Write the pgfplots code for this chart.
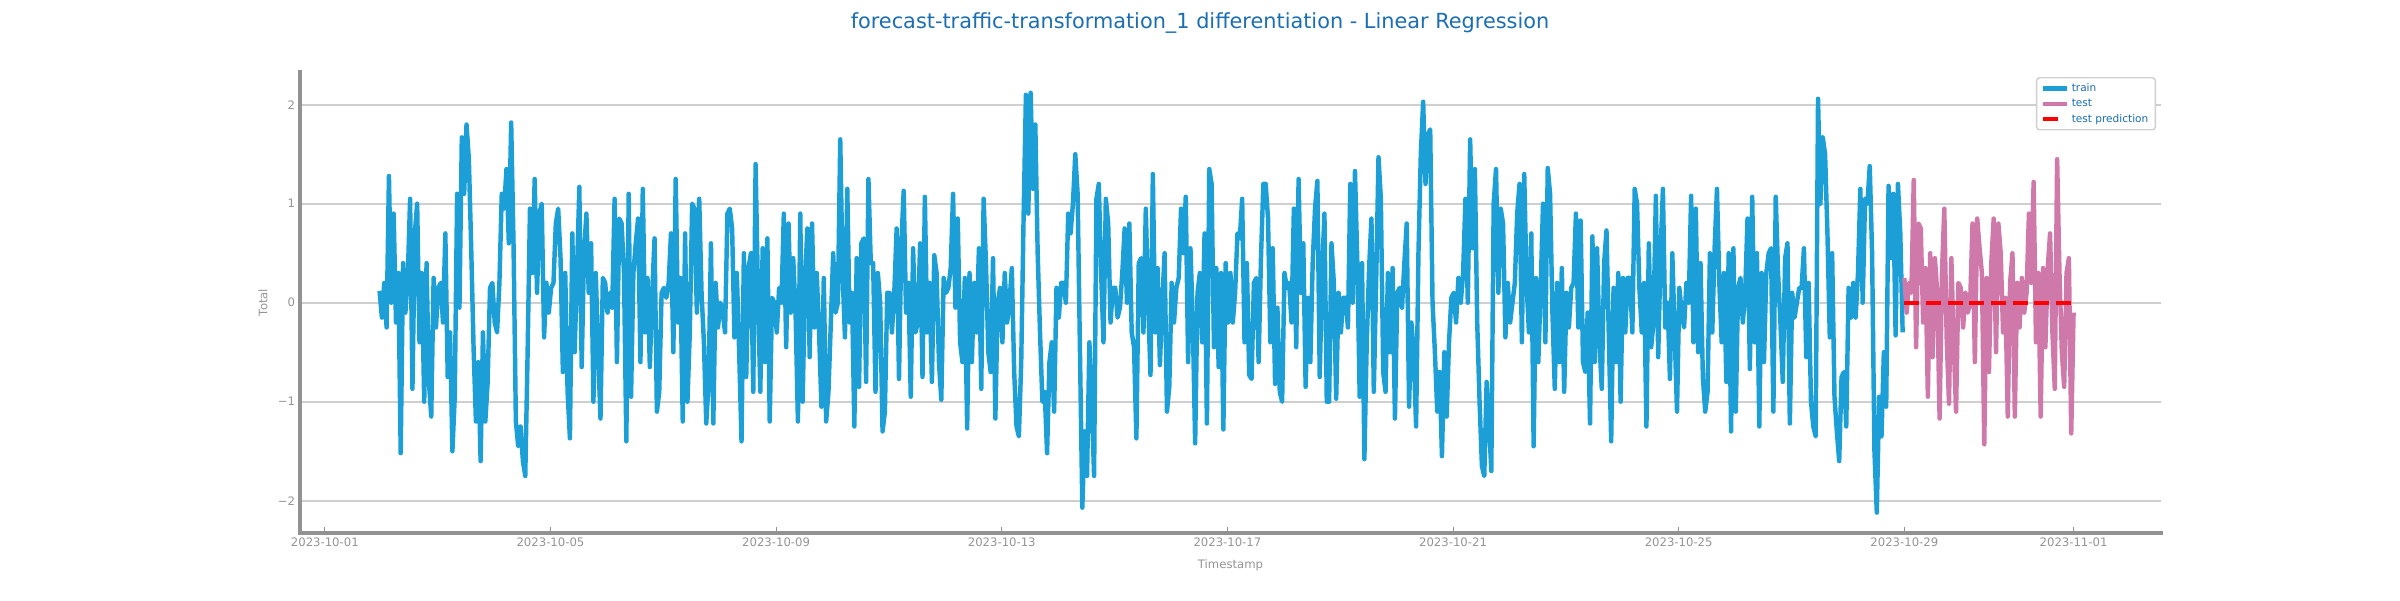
\documentclass[border=0pt]{standalone}
\usepackage{fontspec}
\setmainfont{DejaVu Sans}
\usepackage{pgfplots}
\usepackage{pgfplotstable}
\pgfplotsset{compat=1.18}
\pgfplotsset{predimg/.style={legend image code/.code={\draw[##1, dash pattern=on 10.8pt off 20pt] (0cm,0cm) -- (0.6cm,0cm);}}}

\definecolor{trainc}{HTML}{1B9FD6}
\definecolor{testc}{HTML}{CF78AA}
\definecolor{titlec}{HTML}{1B6EB2}
\definecolor{tickc}{HTML}{949494}
\definecolor{spinec}{HTML}{929292}
\definecolor{gridc}{HTML}{CFCFCF}

% hourly values, train from 2023-10-01 23:00
\pgfplotstableread[header=false,row sep=\\]{%
0.12\\-0.15\\0.2\\-0.25\\1.28\\0.0\\0.9\\-0.2\\0.3\\-1.52\\%
0.4\\-0.1\\0.25\\1.05\\-0.87\\0.7\\1.0\\-0.4\\0.3\\-1.0\\%
0.4\\-0.8\\-1.15\\0.25\\-0.25\\0.15\\0.2\\-0.2\\0.7\\-0.75\\%
-0.3\\-1.5\\-0.95\\1.1\\-0.05\\1.67\\1.1\\1.8\\1.45\\0.55\\%
-0.45\\-1.2\\-0.6\\-1.6\\-0.3\\-1.2\\-0.8\\0.15\\0.2\\-0.2\\%
-0.3\\0.2\\1.1\\0.95\\1.35\\0.6\\1.82\\0.6\\-1.2\\-1.45\\%
-1.25\\-1.6\\-1.75\\-0.5\\0.95\\0.3\\1.25\\0.1\\0.9\\1.0\\%
-0.35\\0.2\\-0.1\\0.15\\0.2\\0.8\\0.95\\0.45\\-0.7\\0.3\\%
-0.9\\-1.37\\0.7\\-0.5\\0.3\\1.17\\-0.65\\0.5\\0.9\\0.1\\%
0.6\\-1.0\\0.3\\-0.5\\-1.17\\0.25\\0.2\\-0.1\\0.1\\-0.05\\%
1.05\\-0.6\\0.85\\0.8\\0.3\\-1.4\\1.1\\-0.95\\0.3\\0.6\\%
0.85\\-0.6\\1.15\\-0.3\\0.25\\-0.65\\0.1\\0.65\\-1.1\\-0.9\\%
0.1\\0.15\\0.05\\0.2\\0.7\\-0.5\\1.25\\-0.2\\0.25\\-1.2\\%
0.7\\-1.0\\-0.3\\1.0\\0.95\\-0.1\\1.05\\0.1\\-0.4\\-1.22\\%
-0.8\\0.6\\-1.22\\0.2\\-0.25\\0.0\\-0.1\\-0.3\\0.9\\0.95\\%
0.75\\-0.35\\0.3\\-0.5\\-1.4\\0.5\\-0.75\\0.35\\0.5\\-0.9\\%
1.4\\%
0.1\\-0.9\\0.55\\-0.6\\0.65\\-1.2\\0.05\\0.0\\-0.3\\0.15\\%
0.0\\0.9\\-0.45\\0.8\\-0.1\\0.45\\-0.1\\-1.2\\0.9\\-1.0\\%
0.2\\0.75\\-0.55\\0.8\\-0.25\\0.3\\-0.3\\-1.05\\0.25\\-1.2\\%
-0.9\\-0.2\\0.5\\-0.1\\0.0\\1.65\\0.3\\-0.35\\1.15\\-0.2\\%
0.1\\-1.25\\0.45\\-0.85\\0.6\\0.65\\-0.8\\1.25\\0.4\\0.4\\%
-0.9\\0.3\\0.0\\-1.3\\-1.1\\0.1\\0.1\\-0.3\\0.1\\0.75\\%
-0.77\\0.6\\1.13\\-0.1\\0.2\\-0.95\\0.55\\-0.3\\-0.2\\0.6\\%
-0.75\\1.07\\-0.3\\0.2\\-0.8\\0.48\\0.3\\-0.6\\-0.98\\0.25\\%
0.1\\%
0.15\\0.35\\1.1\\-0.05\\0.85\\-0.4\\-0.6\\0.25\\-1.27\\0.3\\%
-0.6\\0.2\\-0.3\\0.55\\-0.87\\1.05\\0.4\\-0.5\\-0.7\\0.45\\%
-1.17\\0.0\\0.15\\-0.4\\0.3\\-0.2\\0.0\\0.35\\-0.7\\-1.25\\%
-1.35\\-0.6\\0.85\\2.1\\0.9\\2.12\\1.15\\1.8\\0.5\\-0.3\\%
-1.0\\-0.9\\-1.52\\-0.6\\-0.4\\-1.1\\0.15\\-0.15\\0.2\\0.2\\%
0.0\\0.9\\0.7\\1.0\\1.5\\1.1\\-0.5\\-2.07\\-1.3\\-1.75\\%
-0.4\\-1.0\\-1.75\\1.05\\1.2\\0.3\\-0.4\\1.05\\0.8\\-0.2\\%
0.15\\0.15\\-0.15\\-0.05\\0.3\\0.75\\0.0\\0.8\\-0.3\\-0.45\\%
-1.37\\%
0.4\\0.45\\-0.3\\0.95\\0.0\\-0.73\\1.3\\-0.3\\0.35\\-0.63\\%
0.0\\0.5\\-1.1\\-0.85\\0.2\\-0.2\\0.15\\0.25\\0.95\\0.5\\%
1.07\\-0.6\\0.55\\-0.2\\-1.42\\0.1\\0.3\\-0.4\\0.7\\-1.22\\%
1.35\\1.2\\-0.45\\0.35\\-0.65\\0.3\\-1.28\\0.4\\-0.2\\0.3\\%
-0.2\\0.1\\0.7\\0.65\\1.05\\-0.4\\0.4\\-0.73\\-0.77\\0.2\\%
0.25\\-0.6\\0.45\\1.2\\1.2\\0.85\\-0.4\\0.55\\-0.82\\-0.05\\%
-0.9\\-1.0\\0.3\\0.15\\0.2\\-0.2\\0.95\\-0.45\\1.25\\0.1\\%
0.6\\-0.85\\0.05\\-0.6\\0.4\\0.95\\1.23\\-0.75\\0.3\\0.9\\%
-1.0\\%
-1.0\\0.6\\0.2\\-0.97\\0.1\\-0.3\\0.05\\0.05\\-0.25\\1.2\\%
0.0\\1.33\\0.4\\-0.95\\0.4\\-1.58\\-0.4\\0.35\\0.85\\-0.9\\%
0.2\\1.47\\1.05\\-0.7\\-0.9\\0.3\\-0.5\\0.35\\-1.17\\0.1\\%
0.15\\-0.05\\0.4\\0.8\\-1.05\\-0.2\\-0.5\\-1.25\\0.5\\1.5\\%
2.03\\1.2\\1.7\\1.75\\0.0\\-0.5\\-1.1\\-0.7\\-1.55\\-0.5\\%
-1.15\\-0.4\\0.05\\0.1\\-0.2\\0.25\\0.0\\0.3\\1.05\\0.0\\%
1.65\\0.55\\1.35\\-0.2\\-1.0\\-1.65\\-1.75\\-0.8\\-1.2\\-1.7\\%
1.0\\1.35\\0.1\\0.95\\0.8\\-0.35\\0.2\\-0.2\\0.0\\0.2\\%
0.9\\%
1.2\\-0.4\\1.3\\0.2\\-0.3\\0.7\\-1.45\\0.25\\-0.6\\0.15\\%
1.0\\-0.4\\1.36\\1.1\\-0.1\\-0.87\\0.2\\-0.6\\0.35\\-0.9\\%
0.1\\-0.25\\0.15\\0.2\\0.9\\-0.25\\0.83\\-0.6\\-0.7\\-0.1\\%
-1.22\\0.67\\-0.6\\0.55\\-0.4\\-0.87\\0.4\\0.73\\-0.35\\-1.4\\%
0.15\\-0.6\\0.3\\-1.0\\0.25\\-0.3\\0.25\\0.25\\-0.3\\1.15\\%
1.0\\0.15\\-0.3\\0.2\\-1.25\\0.6\\-0.45\\-0.2\\1.08\\-0.55\\%
0.5\\1.15\\-0.25\\0.0\\-0.77\\0.5\\-0.3\\-1.1\\0.15\\-0.1\\%
-0.25\\0.2\\0.0\\1.08\\-0.4\\0.95\\-0.5\\0.4\\-0.75\\-1.1\\%
-0.9\\%
0.5\\-0.3\\0.55\\1.15\\0.2\\-0.4\\0.3\\-0.8\\0.5\\-1.3\\%
0.55\\-1.1\\0.15\\0.25\\-0.2\\0.1\\0.85\\-0.67\\1.07\\-0.4\\%
0.5\\-1.25\\0.3\\-0.6\\0.3\\0.5\\0.55\\-1.1\\1.07\\0.3\\%
-0.2\\-0.8\\0.45\\0.6\\-1.22\\0.1\\-0.15\\0.0\\0.15\\0.15\\%
0.55\\-0.55\\0.2\\-1.0\\-1.25\\-1.35\\2.06\\1.0\\1.67\\1.5\\%
0.7\\-0.35\\0.5\\-0.95\\-1.3\\-1.6\\-0.75\\-0.7\\-1.25\\0.15\\%
-0.15\\0.2\\-0.15\\0.3\\1.15\\0.0\\1.05\\1.0\\1.38\\0.5\\%
-1.5\\-2.12\\-0.95\\-1.35\\-0.5\\-1.05\\1.18\\0.45\\1.1\\-0.33\\%
1.2\\0.7\\-0.3\\%
}\traindata

% hourly values, test from 2023-10-29 00:00
\pgfplotstableread[header=false,row sep=\\]{%
0.25\\-0.1\\0.2\\0.1\\1.24\\-0.45\\0.8\\0.75\\-0.2\\0.35\\%
-0.95\\0.5\\-0.55\\0.45\\0.1\\-1.17\\0.3\\0.95\\-0.35\\-1.02\\%
0.45\\-0.4\\-1.1\\0.2\\0.15\\-0.25\\0.1\\-0.1\\0.0\\0.8\\%
-0.6\\0.85\\0.55\\0.3\\-1.43\\0.25\\-0.7\\0.4\\0.85\\-0.5\\%
0.8\\0.5\\-0.3\\0.05\\-1.15\\0.2\\0.5\\-1.15\\0.2\\-0.25\\%
0.25\\-0.1\\0.1\\0.9\\0.2\\1.22\\-0.4\\0.3\\-1.15\\0.35\\%
-0.45\\0.35\\0.7\\-0.3\\-0.87\\1.45\\0.3\\-0.5\\-0.85\\0.3\\%
0.45\\-1.32\\-0.1\\%
}\testdata

\begin{document}
\begin{tikzpicture}
\path[use as bounding box] (0,0) rectangle (1728pt,432pt);
\node[anchor=base, text=titlec, font=\fontsize{15pt}{18pt}\selectfont, inner sep=0pt] at (864pt,411.8pt) {forecast-traffic-transformation\_1 differentiation - Linear Regression};
\begin{axis}[
  at={(216pt,48.24pt)}, anchor=south west,
  scale only axis, width=1339.9pt, height=331.9pt,
  xmin=-0.44, xmax=32.55, ymin=-2.326, ymax=2.33,
  axis x line*=bottom, axis y line*=left,
  axis line style={draw=spinec, line width=2.5pt, -, line cap=rect},
  xtick={0,4,8,12,16,20,24,28,31},
  xticklabels={2023-10-01,2023-10-05,2023-10-09,2023-10-13,2023-10-17,2023-10-21,2023-10-25,2023-10-29,2023-11-01},
  ytick={-2,-1,0,1,2},
  yticklabels={−2,−1,0,1,2},
  /pgf/number format/assume math mode=true,
  ymajorgrids=true, xmajorgrids=false,
  grid style={draw=gridc, line width=1.3pt},
  tick label style={text=tickc, font=\fontsize{8.4pt}{10pt}\selectfont},
  xtick style={draw=spinec, line width=0.8pt},
  ytick style={draw=none},
  tick align=inside, major tick length=4.5pt,
  xlabel={Timestamp}, ylabel={Total},
  every axis x label/.style={at={(axis description cs:0.5,-0.0694)}, anchor=center, text=tickc, font=\fontsize{8.4pt}{10pt}\selectfont},
  every axis y label/.style={at={(axis description cs:-0.0199,0.5)}, anchor=center, rotate=90, text=tickc, font=\fontsize{8.4pt}{10pt}\selectfont},
  legend style={at={(0.9973,0.989)}, anchor=north east, draw=gridc, line width=1pt, rounded corners=2pt, fill=white, text=titlec, font=\fontsize{7.6pt}{9pt}\selectfont},
  legend cell align=left,
]
\addplot[trainc, mark=none, line width=3.2pt, line join=round] table[x expr=0.97+\coordindex/24, y index=0]{\traindata};
\addlegendentry{train}
\addplot[testc, mark=none, line width=3.2pt, line join=round] table[x expr=28+\coordindex/24, y index=0]{\testdata};
\addlegendentry{test}
\addplot[red, mark=none, line width=3pt, dash pattern=on 10.8pt off 4.8pt, predimg] coordinates {(28,0) (31,0)};
\addlegendentry{test prediction}
\end{axis}
\end{tikzpicture}
\end{document}
